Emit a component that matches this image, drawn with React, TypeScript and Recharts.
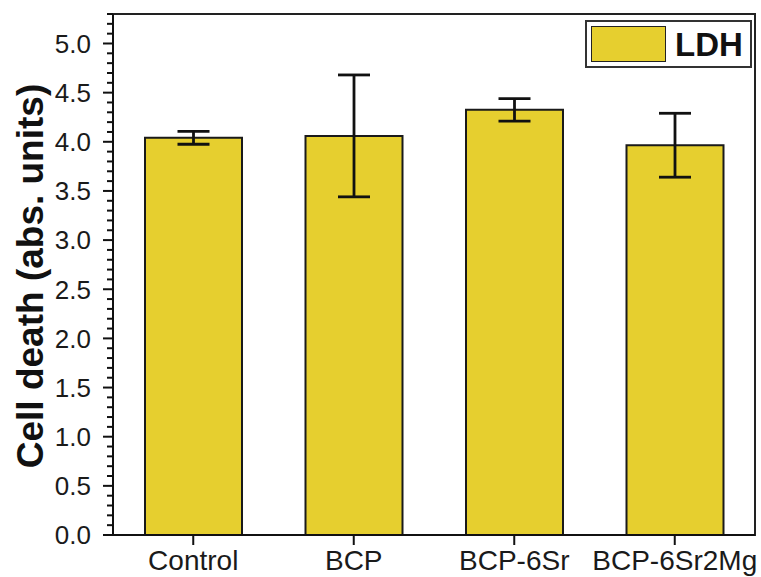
import { Bar, BarChart, ErrorBar, Legend, ReferenceArea, XAxis, YAxis } from "recharts";

const CATEGORIES = ["Control", "BCP", "BCP-6Sr", "BCP-6Sr2Mg"];
const LDH_MEAN = [4.04, 4.06, 4.325, 3.965];
const LDH_ERR = [0.065, 0.62, 0.115, 0.325];
// minor ticks every 0.1, labels on the 0.5 marks
const Y_TICKS = Array.from({ length: 54 }, (_, i) => i / 10);

const BAR_FILL = "#e6cf2f";
const FONT = "Arial, 'Liberation Sans', sans-serif";

const data = CATEGORIES.map((name, i) => ({ name, ldh: LDH_MEAN[i], err: LDH_ERR[i] }));

const TICK_SIZE = 10;
const TICK_MARGIN = 12;

function YTick(props: any) {
  const { x, y, payload } = props;
  const v = payload.value as number;
  const major = Math.abs(v * 2 - Math.round(v * 2)) < 1e-6;
  const axisX = x + TICK_SIZE + TICK_MARGIN;
  return (
    <g>
      <line
        x1={axisX - (major ? 10 : 6)}
        x2={axisX}
        y1={y}
        y2={y}
        stroke="#111"
        strokeWidth={2}
      />
      {major && (
        <text
          x={x}
          y={y}
          dy="0.36em"
          textAnchor="end"
          fontFamily={FONT}
          fontSize={26}
          fill="#1a1a1a"
        >
          {v.toFixed(1)}
        </text>
      )}
    </g>
  );
}

function LegendBox() {
  return (
    <div
      style={{
        boxSizing: "border-box",
        width: 167,
        height: 48,
        border: "2px solid #333",
        background: "#fff",
        display: "flex",
        alignItems: "center",
        paddingLeft: 4,
      }}
    >
      <div
        style={{
          boxSizing: "border-box",
          width: 75,
          height: 36,
          background: BAR_FILL,
          border: "1.5px solid #222",
        }}
      />
      <span
        style={{
          marginLeft: 9,
          fontFamily: FONT,
          fontWeight: 700,
          fontSize: 33,
          color: "#111",
          lineHeight: 1,
        }}
      >
        LDH
      </span>
    </div>
  );
}

export default function App() {
  return (
    <div style={{ position: "absolute", left: 0, top: 0, background: "#fff" }}>
      <BarChart
        width={761}
        height={577}
        data={data}
        margin={{ top: 14, right: 6, bottom: 0, left: 0 }}
      >
        <ReferenceArea
          y1={0}
          y2={5.3}
          fill="none"
          stroke="#222"
          strokeWidth={2}
          ifOverflow="visible"
        />
        <XAxis
          dataKey="name"
          height={42}
          interval={0}
          tickSize={10}
          tickMargin={5}
          tickLine={{ stroke: "#111", strokeWidth: 2 }}
          axisLine={{ stroke: "#111", strokeWidth: 2 }}
          tick={{ fontFamily: FONT, fontSize: 28, fill: "#1a1a1a" }}
        />
        <YAxis
          width={113}
          domain={[0, 5.3]}
          ticks={Y_TICKS}
          interval={0}
          allowDataOverflow
          tickSize={TICK_SIZE}
          tickMargin={TICK_MARGIN}
          tickLine={false}
          axisLine={{ stroke: "#111", strokeWidth: 2 }}
          tick={<YTick />}
          label={{
            content: () => (
              <text
                transform="translate(43,276) rotate(-90)"
                textAnchor="middle"
                fontFamily={FONT}
                fontWeight={700}
                fontSize={37}
                fill="#111"
              >
                Cell death (abs. units)
              </text>
            ),
          }}
        />
        <Legend
          layout="horizontal"
          verticalAlign="middle"
          align="center"
          content={() => <LegendBox />}
          wrapperStyle={{ position: "absolute", left: 585, top: 20, width: 167, height: 48 }}
        />
        <Bar
          dataKey="ldh"
          name="LDH"
          fill={BAR_FILL}
          stroke="#1a1a1a"
          strokeWidth={2}
          barSize={97}
          isAnimationActive={false}
        >
          <ErrorBar dataKey="err" direction="y" width={16} stroke="#111" strokeWidth={2.8} />
        </Bar>
      </BarChart>
    </div>
  );
}
